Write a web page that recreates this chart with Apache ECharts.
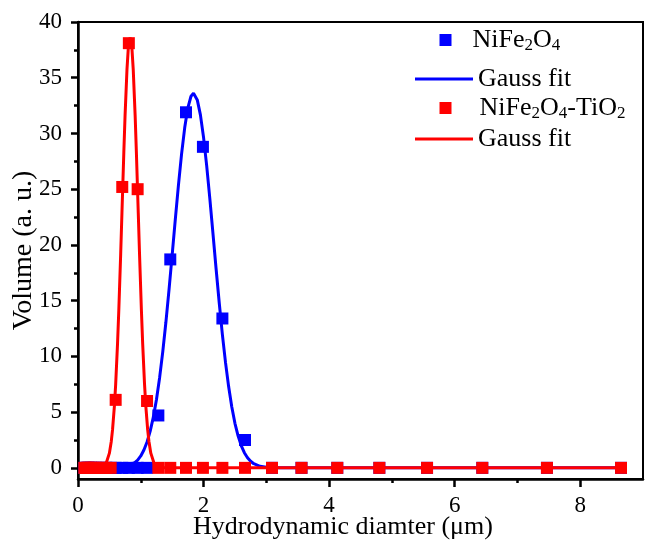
<!DOCTYPE html>
<html>
<head>
<meta charset="utf-8">
<script src="https://cdn.jsdelivr.net/npm/echarts@6/dist/echarts.min.js"></script>
<style>
html,body{margin:0;padding:0;background:#fff;}
#chart{width:645px;height:542px;}
</style>
</head>
<body>
<div id="chart"></div>
<script>
// Measured size bins (µm)
const binX = [0.10,0.12,0.14,0.16,0.18,0.21,0.25,0.28,0.33,0.38,0.45,0.52,0.60,0.705,0.81,0.95,1.10,1.28,1.47,1.72,1.99,2.30,2.66,3.09,3.56,4.13,4.80,5.56,6.44,7.47,8.65];
// Volume values
const niFeValues   = [0,0,0,0,0,0,0,0,0,0,0,0,0,0,0,0,0,4.7,18.7,31.9,28.8,13.4,2.5,0,0,0,0,0,0,0,0];
const niFeTiValues = [0,0,0,0,0,0,0,0,0,0,0,0,6.1,25.2,38.1,25.0,6.0,0,0,0,0,0,0,0,0,0,0,0,0,0,0];
// Gauss fit curves
const fitNiX = [0.10,0.50,0.70,0.80,0.85,0.90,0.95,1.00,1.05,1.10,1.15,1.20,1.25,1.30,1.35,1.40,1.45,1.50,1.55,1.60,1.65,1.70,1.75,1.80,1.84,1.85,1.90,1.95,2.00,2.05,2.10,2.15,2.20,2.25,2.30,2.35,2.40,2.45,2.50,2.55,2.60,2.65,2.70,2.75,2.80,2.90,3.00,3.20,8.65];
const fitNiY = [0,0.01,0.06,0.17,0.28,0.45,0.70,1.07,1.60,2.32,3.29,4.55,6.14,8.09,10.41,13.06,15.99,19.10,22.29,25.36,28.17,30.53,32.30,33.34,33.60,33.58,33.01,31.67,29.65,27.09,24.16,21.02,17.84,14.79,11.96,9.44,7.27,5.46,4.00,2.87,2.00,1.36,0.91,0.59,0.37,0.14,0.05,0,0];
const fitTiX = [0.10,0.30,0.35,0.40,0.45,0.50,0.53,0.55,0.58,0.60,0.63,0.65,0.68,0.70,0.73,0.75,0.78,0.80,0.815,0.83,0.845,0.86,0.88,0.91,0.93,0.96,0.98,1.01,1.03,1.06,1.08,1.11,1.13,1.16,1.21,1.26,1.31,1.40,8.65];
const fitTiY = [0,0,0.03,0.13,0.44,1.32,2.37,3.40,5.56,7.49,11.17,14.14,19.21,22.86,28.31,31.65,35.72,37.54,38.33,38.60,38.33,37.54,35.72,31.65,28.31,22.86,19.21,14.14,11.17,7.49,5.56,3.40,2.37,1.32,0.44,0.13,0.03,0,0];
// Ticks
const xMajorTicks = [0,2,4,6,8];
const xMinorTicks = [1,3,5,7];
const yMajorTicks = [0,5,10,15,20,25,30,35,40];
const yMinorTicks = [2.5,7.5,12.5,17.5,22.5,27.5,32.5,37.5];
// Legend names
const seriesNames = ['NiFe2O4','Gauss fit (NiFe2O4)','NiFe2O4-TiO2','Gauss fit (NiFe2O4-TiO2)'];
const legendLabels = {
  'NiFe2O4': '{p1|NiFe}{s|2}{n|O}{s|4}',
  'Gauss fit (NiFe2O4)': '{n|Gauss fit}',
  'NiFe2O4-TiO2': '{p2|NiFe}{s|2}{n|O}{s|4}{n|-TiO}{s|2}',
  'Gauss fit (NiFe2O4-TiO2)': '{n|Gauss fit}'
};

const FONT = 'Liberation Serif';
const pairs = (xs, ys) => xs.map((x, i) => [x, ys[i]]);

const chart = echarts.init(document.getElementById('chart'), null, {renderer: 'canvas'});

const richText = {
  n: {fontFamily: FONT, fontSize: 26, color: '#000', lineHeight: 28},
  p1: {fontFamily: FONT, fontSize: 26, color: '#000', lineHeight: 28, padding: [0, 0, 0, 16]},
  p2: {fontFamily: FONT, fontSize: 26, color: '#000', lineHeight: 28, padding: [0, 0, 0, 23]},
  s: {fontFamily: FONT, fontSize: 17, color: '#000', lineHeight: 14, verticalAlign: 'bottom'}
};
function legendFor(name, left, top, w, h) {
  return {
    data: [name], left: left, top: top, padding: 0,
    icon: 'rect', itemWidth: w, itemHeight: h, selectedMode: false,
    formatter: n => legendLabels[n],
    textStyle: {fontFamily: FONT, fontSize: 26, color: '#000', rich: richText}
  };
}

const axisCommonX = {type: 'value', min: 0, max: 9};
const axisCommonY = {type: 'value', min: -1, max: 40};

chart.setOption({
  animation: false,
  backgroundColor: '#fff',
  textStyle: {fontFamily: FONT},
  grid: {left: 78, right: 2, top: 22, bottom: 63, containLabel: false, outerBoundsMode: 'none',
         show: true, borderColor: '#000', borderWidth: 2, backgroundColor: 'transparent'},
  legend: [
    legendFor(seriesNames[0], 439.5, 27, 12, 12),
    legendFor(seriesNames[1], 415, 66, 58, 3),
    legendFor(seriesNames[2], 439.5, 95, 12, 12),
    legendFor(seriesNames[3], 415, 126, 58, 3)
  ],
  xAxis: [
    Object.assign({}, axisCommonX, {
      name: 'Hydrodynamic diamter (\u03bcm)', nameLocation: 'middle', nameGap: 35, nameMoveOverlap: false,
      nameTextStyle: {fontFamily: FONT, fontSize: 26, color: '#000', padding: [0, 35, 0, 0]},
      axisLine: {show: true, onZero: false, lineStyle: {color: '#000', width: 2.5}},
      axisTick: {show: true, inside: false, length: 8, customValues: xMajorTicks, lineStyle: {color: '#000', width: 2.5}},
      axisLabel: {show: true, margin: 15, customValues: xMajorTicks, fontFamily: FONT, fontSize: 23, color: '#000'},
      splitLine: {show: false}
    }),
    Object.assign({}, axisCommonX, {
      position: 'bottom',
      axisLine: {show: false, onZero: false},
      axisTick: {show: true, inside: false, length: 4, customValues: xMinorTicks, lineStyle: {color: '#000', width: 2.5}},
      axisLabel: {show: false},
      splitLine: {show: false}
    })
  ],
  yAxis: [
    Object.assign({}, axisCommonY, {
      name: 'Volume (a. u.)', nameLocation: 'middle', nameGap: 40, nameMoveOverlap: false,
      nameTextStyle: {fontFamily: FONT, fontSize: 28, color: '#000'},
      axisLine: {show: true, onZero: false, lineStyle: {color: '#000', width: 2.5}},
      axisTick: {show: true, inside: false, length: 7, customValues: yMajorTicks, lineStyle: {color: '#000', width: 2.5}},
      axisLabel: {show: true, margin: 16, customValues: yMajorTicks, fontFamily: FONT, fontSize: 23, color: '#000'},
      splitLine: {show: false}
    }),
    Object.assign({}, axisCommonY, {
      position: 'left',
      axisLine: {show: false, onZero: false},
      axisTick: {show: true, inside: false, length: 4, customValues: yMinorTicks, lineStyle: {color: '#000', width: 2.5}},
      axisLabel: {show: false},
      splitLine: {show: false}
    })
  ],
  series: [
    {
      name: seriesNames[1], type: 'line', data: pairs(fitNiX, fitNiY),
      symbol: 'none', smooth: false, lineStyle: {color: '#0000ff', width: 3}, itemStyle: {color: '#0000ff'}, z: 2
    },
    {
      name: seriesNames[0], type: 'scatter', data: pairs(binX, niFeValues),
      symbol: 'rect', symbolSize: 12, itemStyle: {color: '#0000ff', opacity: 1}, z: 3
    },
    {
      name: seriesNames[3], type: 'line', data: pairs(fitTiX, fitTiY),
      symbol: 'none', smooth: false, lineStyle: {color: '#ff0000', width: 3}, itemStyle: {color: '#ff0000'}, z: 4
    },
    {
      name: seriesNames[2], type: 'scatter', data: pairs(binX, niFeTiValues),
      symbol: 'rect', symbolSize: 12, itemStyle: {color: '#ff0000', opacity: 1}, z: 5
    }
  ]
});
</script>
</body>
</html>
